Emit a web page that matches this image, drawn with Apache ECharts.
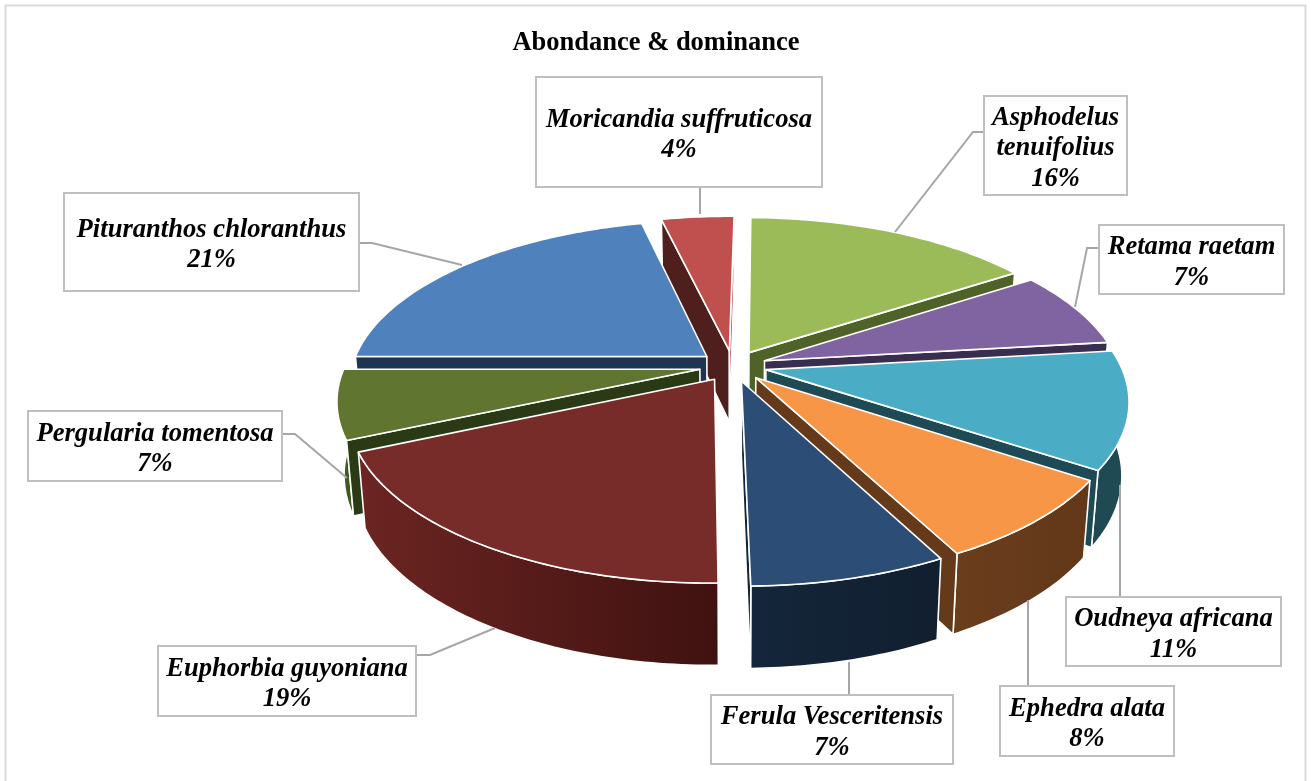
<!DOCTYPE html>
<html><head><meta charset="utf-8">
<style>html,body{margin:0;padding:0;background:#fff}#c{width:1311px;height:781px}</style>
<script src="https://cdn.jsdelivr.net/npm/echarts@6/dist/echarts.min.js"></script>
</head><body><div id="c"></div>
<script>
const chartTitle = 'Abondance & dominance';
const speciesNames = ['Asphodelus\ntenuifolius','Retama raetam','Oudneya africana','Ephedra alata','Ferula Vesceritensis','Euphorbia guyoniana','Pergularia tomentosa','Pituranthos chloranthus','Moricandia suffruticosa'];
const percentValues = [15.5,7.4,11.2,7.99,7.36,18.64,6.6,21.3,3.9];

const topColors  = ['#9BBB59','#8064A2','#4BACC6','#F79646','#2C4D75','#772C2A','#5F7530','#4F81BD','#C0504D'];
const faceColors = ['#4F6228','#3A2E50','#1E4A55','#643A1A','#14263B','#4A1A18','#2A3A14','#1E3450','#4F1F1D'];
const sliverColor = '#A8403D';
const wallFrom   = ['#5a7030','#4a3a60','#1f4a54','#6a3d1c','#14263b','#6c2522','#4d602a','#2a4a70','#702c2a'];
const wallTo     = ['#5a7030','#4a3a60','#1f4a54','#623819','#111f2f','#3f1210','#3f5a1f','#2a4a70','#702c2a'];

// layout of the projected disc
const CX = 733, CY = 366, AX = 355, BY = 163, PERSP = 0.175, EXPLODE = 0.095, DEPTH = 72, SHRINK_X = 0.018, SHRINK_Y = 0.03, START = 0.8*Math.PI/180;
// label box layout: x1,y1,x2,y2
const boxLayout = [[984,96,1127,195],[1099,225,1284,294],[1066,597,1281,666],[1000,686,1174,756],[711,695,953,764],[158,646,416,716],[28,411,282,481],[64,193,359,291],[536,77,822,187]];
const leaderLayout = [
 [[984,132],[973,132],[895,232]],
 [[1099,248],[1087,248],[1075,307]],
 [[1120,597],[1120,485]],
 [[1028,686],[1028,600]],
 [[849,695],[849,662]],
 [[416,655],[430,655],[495,628]],
 [[282,434],[295,434],[347,478]],
 [[359,243],[372,243],[462,265]],
 [[700,187],[700,214]]
];

const total = percentValues.reduce((a,b)=>a+b,0);
const starts = []; { let acc = START; percentValues.forEach(v=>{starts.push(acc); acc += v/total*Math.PI*2;}); }
const mids = percentValues.map((v,i)=>starts[i]+v/total*Math.PI);
// painter order: far slices first
const order = mids.map((m,i)=>[-Math.cos(m),i]).sort((a,b)=>a[0]-b[0]).map(p=>p[1]);

function proj(u,v,h){ const s=1/(1-PERSP*v); return [CX+AX*u*s*(1-SHRINK_X*h), CY+BY*v*s*(1-SHRINK_Y*h)+DEPTH*h*s]; }
function faceVisible(apex,end,inner){
  const ex=end[0]-apex[0], ey=end[1]-apex[1];
  const side=ex*(inner[1]-apex[1])-ey*(inner[0]-apex[0]);
  return side*ex<0;
}

function renderSlice(params){
  const i = params.dataIndex;
  const a0 = starts[i], a1 = a0+percentValues[i]/total*Math.PI*2, m = mids[i];
  const ou = EXPLODE*Math.sin(m), ov = -EXPLODE*Math.cos(m);
  const P = (r,t,h)=>proj(ou+r*Math.sin(t), ov-r*Math.cos(t), h);
  const n = Math.max(4, Math.ceil((a1-a0)/(Math.PI/180)));
  const arcT=[],arcB=[];
  for(let k=0;k<=n;k++){ const t=a0+(a1-a0)*k/n; arcT.push(P(1,t,0)); arcB.push(P(1,t,1)); }
  const apexT=P(0,a0,0), apexB=P(0,a0,1), inner=P(1,m,0);
  const z = order.indexOf(i)*10;
  const xs = arcT.map(p=>p[0]);
  const grad = {type:'linear',x:Math.min(...xs),y:0,x2:Math.max(...xs),y2:0,global:true,
    colorStops:[{offset:0,color:wallFrom[i]},{offset:1,color:wallTo[i]}]};
  const edge = {stroke:'#fff',lineWidth:1.6,lineJoin:'round'};
  const children = [
    {type:'polygon',z2:z+1,shape:{points:arcT.concat(arcB.slice().reverse())},style:Object.assign({fill:grad},edge)}
  ];
  if(faceVisible(apexT,arcT[0],inner)) children.push({type:'polygon',z2:z+2,shape:{points:[apexT,arcT[0],arcB[0],apexB]},style:Object.assign({fill:faceColors[i]},edge)});
  if(faceVisible(apexT,arcT[n],inner)) children.push({type:'polygon',z2:z+2,shape:{points:[apexT,arcT[n],arcB[n],apexB]},style:Object.assign({fill:i===8?sliverColor:faceColors[i]},edge)});
  children.push({type:'polygon',z2:z+3,shape:{points:[apexT].concat(arcT)},style:Object.assign({fill:topColors[i]},edge)});
  return {type:'group',children};
}

const serif = '"Liberation Serif","Times New Roman",serif';
const graphics = [{type:'rect',silent:true,shape:{x:5.5,y:5.5,width:1300,height:790},style:{fill:'none',stroke:'#D9D9D9',lineWidth:2}}];
leaderLayout.forEach(pts=>graphics.push({type:'polyline',silent:true,z:5,shape:{points:pts},style:{fill:'none',stroke:'#A6A6A6',lineWidth:2}}));
speciesNames.forEach((nm,i)=>{
  const b=boxLayout[i];
  graphics.push({type:'rect',silent:true,z:6,shape:{x:b[0],y:b[1],width:b[2]-b[0],height:b[3]-b[1]},style:{fill:'#fff',stroke:'#BFBFBF',lineWidth:2}});
  graphics.push({type:'text',silent:true,z:7,x:(b[0]+b[2])/2,y:(b[1]+b[3])/2+3,style:{text:nm+'\n'+Math.round(percentValues[i])+'%',fill:'#000',align:'center',verticalAlign:'middle',lineHeight:30.5,font:'italic bold 26.6px '+serif}});
});

const chart = echarts.init(document.getElementById('c'),null,{renderer:'canvas'});
chart.setOption({
  animation:false,
  backgroundColor:'#fff',
  title:{text:chartTitle,left:651,top:25,textAlign:'center',textStyle:{fontFamily:serif,fontWeight:'bold',fontSize:26.5,color:'#000'}},
  series:[{type:'custom',coordinateSystem:'none',silent:true,renderItem:renderSlice,
    data:percentValues.map((v,i)=>({name:speciesNames[i],value:v}))}],
  graphic:graphics
});
</script></body></html>
